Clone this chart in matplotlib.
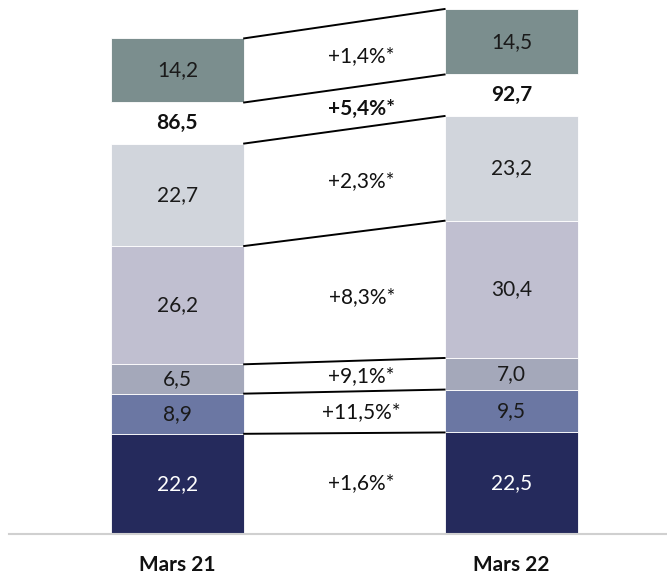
import matplotlib.pyplot as plt
import numpy as np

plt.rcParams['font.family'] = ['Lato', 'DejaVu Sans']

periods = ['Mars 21', 'Mars 22']
# stacked segments, bottom to top
seg_mars21 = [22.2, 8.9, 6.5, 26.2, 22.7]
seg_mars22 = [22.5, 9.5, 7.0, 30.4, 23.2]
seg_labels_21 = ['22,2', '8,9', '6,5', '26,2', '22,7']
seg_labels_22 = ['22,5', '9,5', '7,0', '30,4', '23,2']
totals = [86.5, 92.7]
total_labels = ['86,5', '92,7']
top_values = [14.2, 14.5]
top_labels = ['14,2', '14,5']
seg_growth = ['+1,6%*', '+11,5%*', '+9,1%*', '+8,3%*', '+2,3%*']
total_growth = '+5,4%*'
top_growth = '+1,4%*'

seg_colors = ['#252a5c', '#6b77a3', '#a4a8ba', '#c0bfd0', '#d1d5dc']
top_color = '#7b8e8e'
text_colors = ['white', '#1a1a1a', '#1a1a1a', '#1a1a1a', '#1a1a1a']

gap = 9.1
width = 0.4
x = np.array([0, 1])
fs = 15

fig = plt.figure(figsize=(6.67, 5.76), dpi=100)
ax = fig.add_axes([0, 0, 1, 1])
ax.set_xlim(-0.531, 1.466)
ax.set_ylim(-9.3, 118.3)
ax.axis('off')

stacks = [seg_mars21, seg_mars22]
labels = [seg_labels_21, seg_labels_22]
bounds = []  # boundary heights per bar
for i, vals in enumerate(stacks):
    bottom = 0
    b = [0]
    for j, v in enumerate(vals):
        ax.bar(x[i], v, width, bottom=bottom, color=seg_colors[j],
               edgecolor='white', linewidth=0.6)
        ax.text(x[i], bottom + v / 2, labels[i][j], ha='center', va='center',
                fontsize=fs, color=text_colors[j])
        bottom += v
        b.append(bottom)
    # total label in the gap
    ax.text(x[i], totals[i] + gap / 2, total_labels[i], ha='center', va='center',
            fontsize=fs, fontweight='bold', color='#111111')
    tb = totals[i] + gap
    ax.bar(x[i], top_values[i], width, bottom=tb, color=top_color,
           edgecolor='white', linewidth=0.6)
    ax.text(x[i], tb + top_values[i] / 2, top_labels[i], ha='center', va='center',
            fontsize=fs, color='#1a1a1a')
    b.append(tb)
    b.append(tb + top_values[i])
    bounds.append(b)

# connectors between the two bars
x0 = x[0] + width / 2
x1 = x[1] - width / 2
b21, b22 = bounds
for k in range(1, len(b21)):
    ax.plot([x0, x1], [b21[k], b22[k]], color='black', linewidth=1.4)

xm = 0.552
growth = seg_growth + [total_growth, top_growth]
for k in range(len(growth)):
    lo = (b21[k] + b22[k]) / 2
    hi = (b21[k + 1] + b22[k + 1]) / 2
    bold = growth[k] == total_growth
    ax.text(xm, (lo + hi) / 2, growth[k], ha='center', va='center', fontsize=fs,
            fontweight='bold' if bold else 'normal', color='#111111')

ax.plot([-0.505, 1.466], [0, 0], color='#d0d0d0', linewidth=1.5)
for i, p in enumerate(periods):
    ax.text(x[i], -6.8, p, ha='center', va='center', fontsize=fs,
            fontweight='bold', color='#111111')

fig.savefig('out.png', dpi=100)
